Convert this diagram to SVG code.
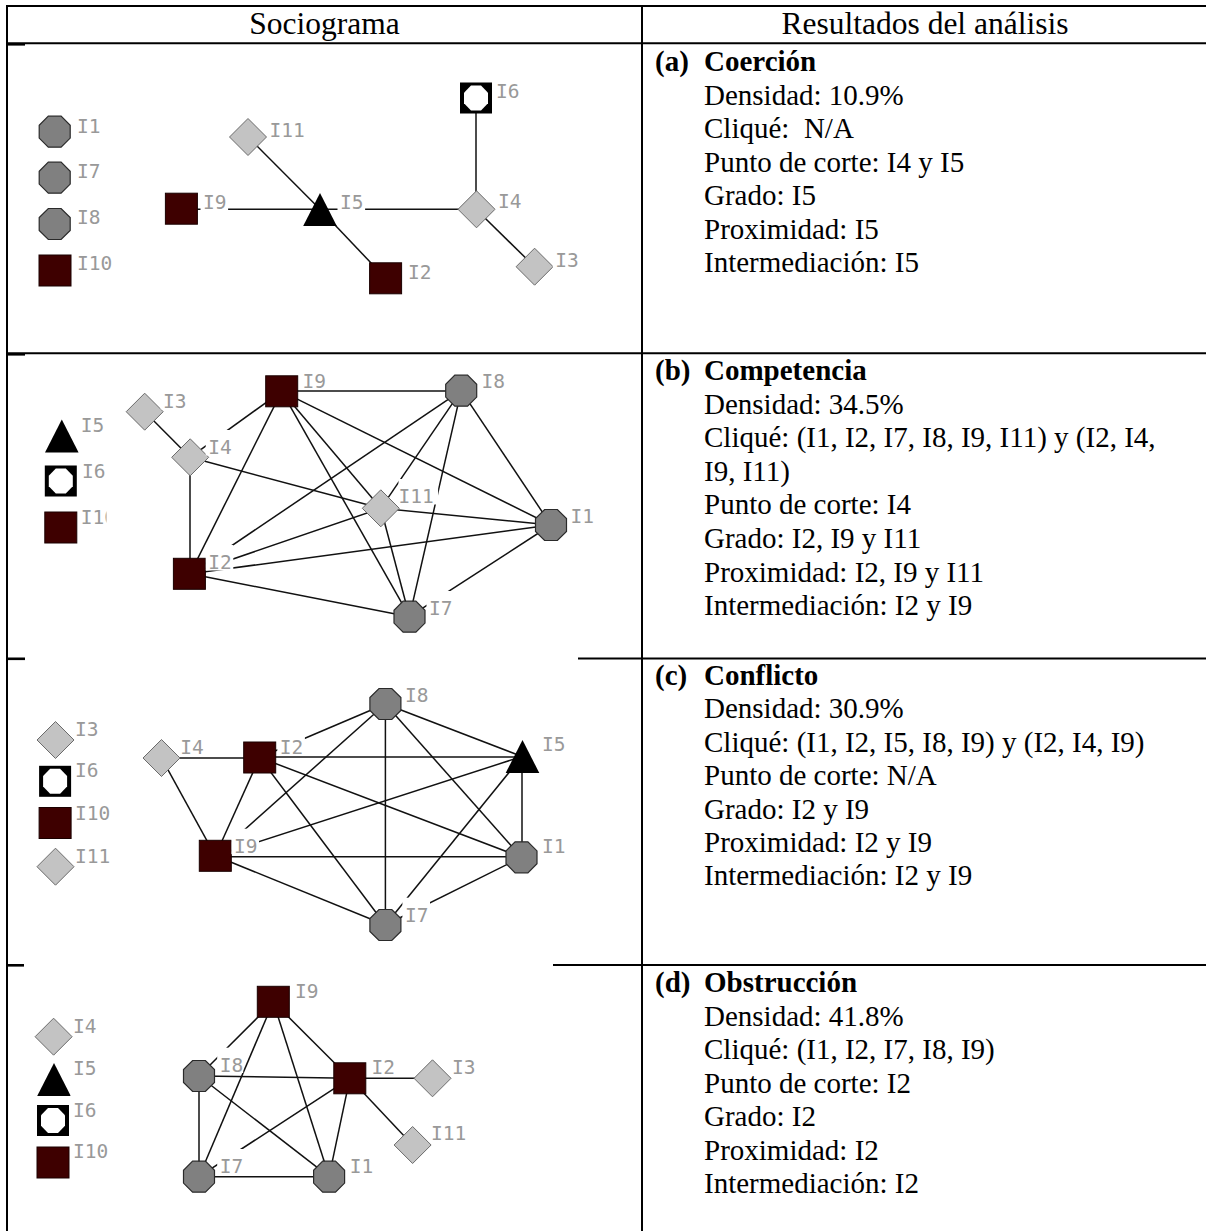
<svg xmlns="http://www.w3.org/2000/svg" width="1206" height="1231" viewBox="0 0 1206 1231">
  <style>
    .tl { stroke: #000; stroke-width: 2; fill: none; }
    .stub { fill: #000; }
    .e line { stroke: #111; stroke-width: 1.5; }
    .lbg { fill: #fff; }
    .lb { font-family: "DejaVu Sans Mono", monospace; font-size: 19.5px; fill: #999; }
    .hd { font-family: "Liberation Serif", "Times New Roman", serif; font-size: 31.5px; fill: #000; text-anchor: middle; }
    .tx { font-family: "Liberation Serif", "Times New Roman", serif; font-size: 29px; fill: #000; }
    .b { font-weight: bold; }
  </style>
  <defs>
    <!-- actor shapes -->
    <polygon id="oct" points="-6.4,-15.5 6.4,-15.5 15.5,-6.4 15.5,6.4 6.4,15.5 -6.4,15.5 -15.5,6.4 -15.5,-6.4" fill="#808080" stroke="#2a2a2a" stroke-width="1.2"/>
    <rect id="sq" x="-16" y="-15.5" width="32" height="31" fill="#3e0000" stroke="#1a0000" stroke-width="1"/>
    <polygon id="dia" points="0,-18.5 18.5,0 0,18.5 -18.5,0" fill="#c3c3c3" stroke="#6b6b6b" stroke-width="1"/>
    <polygon id="tri" points="0,-16.5 16.8,16.5 -16.8,16.5" fill="#000"/>
    <g id="sqo">
      <rect x="-16" y="-15.5" width="32" height="31" fill="#000"/>
      <polygon points="-5,-12.5 5,-12.5 12,-5.2 12,5.2 5,12.5 -5,12.5 -12,5.2 -12,-5.2" fill="#fff"/>
    </g>
    <clipPath id="legendB">
      <rect x="0" y="340" width="106.5" height="300"/>
    </clipPath>
  </defs>

  <rect width="1206" height="1231" fill="#fff"/>

  <!-- table rules -->
  <g id="table">
    <line class="tl" x1="6" y1="6" x2="1206" y2="6"/>
    <line class="tl" x1="7" y1="5" x2="7" y2="1231"/>
    <line class="tl" x1="642" y1="5" x2="642" y2="1231"/>
    <line class="tl" x1="6" y1="43.3" x2="1206" y2="43.3"/>
    <line class="tl" x1="6" y1="353.3" x2="1206" y2="353.3"/>
    <line class="tl" x1="578" y1="658.5" x2="1206" y2="658.5"/>
    <line class="tl" x1="553" y1="965" x2="1206" y2="965"/>
    <rect class="stub" x="6" y="43" width="19" height="2.6"/>
    <rect class="stub" x="6" y="353" width="19" height="2.6"/>
    <rect class="stub" x="6" y="657.5" width="19" height="2.6"/>
    <rect class="stub" x="6" y="964" width="18" height="2.6"/>
  </g>

  <!-- headers -->
  <text class="hd" x="324.5" y="34">Sociograma</text>
  <text class="hd" x="925" y="34">Resultados del análisis</text>

  <!-- analysis results -->
  <g id="results">
    <text class="tx b" x="655" y="71">(a)</text>
    <text class="tx b" x="704" y="71">Coerción</text>
    <text class="tx" x="704" y="104.5">Densidad: 10.9%</text>
    <text class="tx" x="704" y="138">Cliqué:&#160; N/A</text>
    <text class="tx" x="704" y="171.5">Punto de corte: I4 y I5</text>
    <text class="tx" x="704" y="205">Grado: I5</text>
    <text class="tx" x="704" y="238.5">Proximidad: I5</text>
    <text class="tx" x="704" y="272">Intermediación: I5</text>

    <text class="tx b" x="655" y="380">(b)</text>
    <text class="tx b" x="704" y="380">Competencia</text>
    <text class="tx" x="704" y="413.6">Densidad: 34.5%</text>
    <text class="tx" x="704" y="447.2">Cliqué: (I1, I2, I7, I8, I9, I11) y (I2, I4,</text>
    <text class="tx" x="704" y="480.8">I9, I11)</text>
    <text class="tx" x="704" y="514.4">Punto de corte: I4</text>
    <text class="tx" x="704" y="548">Grado: I2, I9 y I11</text>
    <text class="tx" x="704" y="581.6">Proximidad: I2, I9 y I11</text>
    <text class="tx" x="704" y="615.2">Intermediación: I2 y I9</text>

    <text class="tx b" x="655" y="685">(c)</text>
    <text class="tx b" x="704" y="685">Conflicto</text>
    <text class="tx" x="704" y="718.4">Densidad: 30.9%</text>
    <text class="tx" x="704" y="751.8">Cliqué: (I1, I2, I5, I8, I9) y (I2, I4, I9)</text>
    <text class="tx" x="704" y="785.2">Punto de corte: N/A</text>
    <text class="tx" x="704" y="818.6">Grado: I2 y I9</text>
    <text class="tx" x="704" y="852">Proximidad: I2 y I9</text>
    <text class="tx" x="704" y="885.4">Intermediación: I2 y I9</text>

    <text class="tx b" x="655" y="992">(d)</text>
    <text class="tx b" x="704" y="992">Obstrucción</text>
    <text class="tx" x="704" y="1025.5">Densidad: 41.8%</text>
    <text class="tx" x="704" y="1059">Cliqué: (I1, I2, I7, I8, I9)</text>
    <text class="tx" x="704" y="1092.5">Punto de corte: I2</text>
    <text class="tx" x="704" y="1126">Grado: I2</text>
    <text class="tx" x="704" y="1159.5">Proximidad: I2</text>
    <text class="tx" x="704" y="1193">Intermediación: I2</text>
  </g>

  <!-- ===== (a) Coerción ===== -->
  <g id="edges-a" class="e">
    <line x1="248" y1="137" x2="320" y2="209.3"/>
    <line x1="181.4" y1="209.3" x2="320" y2="209.3"/>
    <line x1="320" y1="209.3" x2="385.6" y2="278.3"/>
    <line x1="320" y1="209.3" x2="476" y2="209.3"/>
    <line x1="476" y1="98" x2="476" y2="209.3"/>
    <line x1="476" y1="209.3" x2="534.6" y2="266.7"/>
  </g>
  <g id="a-I1"><use href="#oct" x="54.7" y="131.7"/><rect class="lbg" x="74.5" y="109" width="27.6" height="25.5"/><text class="lb" x="77" y="133">I1</text></g>
  <g id="a-I7"><use href="#oct" x="54.7" y="177.7"/><rect class="lbg" x="74.5" y="154" width="27.6" height="25.5"/><text class="lb" x="77" y="178">I7</text></g>
  <g id="a-I8"><use href="#oct" x="54.7" y="224"/><rect class="lbg" x="74.5" y="200" width="27.6" height="25.5"/><text class="lb" x="77" y="224">I8</text></g>
  <g id="a-I10"><use href="#sq" x="55" y="270.5"/><rect class="lbg" x="74.5" y="246" width="39.6" height="25.5"/><text class="lb" x="77" y="270">I10</text></g>
  <g id="a-I6"><use href="#sqo" x="476" y="98"/><rect class="lbg" x="493.5" y="74" width="27.6" height="25.5"/><text class="lb" x="496" y="98">I6</text></g>
  <g id="a-I11"><use href="#dia" x="248" y="137"/><rect class="lbg" x="267" y="113" width="39.6" height="25.5"/><text class="lb" x="269.5" y="137">I11</text></g>
  <g id="a-I9"><use href="#sq" x="181.4" y="208.7"/><rect class="lbg" x="200.5" y="185" width="27.6" height="25.6"/><text class="lb" x="203" y="209">I9</text></g>
  <g id="a-I5"><use href="#tri" x="320" y="209.5"/><rect class="lbg" x="337.5" y="185" width="27.6" height="25.6"/><text class="lb" x="340" y="209">I5</text></g>
  <g id="a-I4"><use href="#dia" x="476.5" y="209.3"/><rect class="lbg" x="495.5" y="184" width="27.6" height="25.5"/><text class="lb" x="498" y="208">I4</text></g>
  <g id="a-I2"><use href="#sq" x="385.6" y="278.3"/><rect class="lbg" x="405.5" y="255" width="27.6" height="25.5"/><text class="lb" x="408" y="279">I2</text></g>
  <g id="a-I3"><use href="#dia" x="534.6" y="266.7"/><rect class="lbg" x="552.8" y="243" width="27.6" height="25.5"/><text class="lb" x="555.3" y="267">I3</text></g>

  <!-- ===== (b) Competencia ===== -->
  <g id="edges-b" class="e">
    <line x1="144.7" y1="411.7" x2="190" y2="457.3"/>
    <line x1="190" y1="457.3" x2="190" y2="573.8"/>
    <line x1="190" y1="457.3" x2="380.8" y2="508.3"/>
    <line x1="190" y1="457.3" x2="281.7" y2="391.3"/>
    <line x1="281.7" y1="391" x2="461.2" y2="391"/>
    <line x1="281.7" y1="391.3" x2="190" y2="573.8"/>
    <line x1="281.7" y1="391.3" x2="409.5" y2="616.7"/>
    <line x1="281.7" y1="391.3" x2="380.8" y2="508.3"/>
    <line x1="281.7" y1="391.3" x2="551" y2="525"/>
    <line x1="461.2" y1="390.7" x2="190" y2="573.8"/>
    <line x1="461.2" y1="390.7" x2="380.8" y2="508.3"/>
    <line x1="461.2" y1="390.7" x2="409.5" y2="616.7"/>
    <line x1="461.2" y1="390.7" x2="551" y2="525"/>
    <line x1="380.8" y1="508.3" x2="551" y2="525"/>
    <line x1="380.8" y1="508.3" x2="190" y2="573.8"/>
    <line x1="380.8" y1="508.3" x2="409.5" y2="616.7"/>
    <line x1="190" y1="573.8" x2="551" y2="525"/>
    <line x1="190" y1="573.8" x2="409.5" y2="616.7"/>
    <line x1="551" y1="525" x2="409.5" y2="616.7"/>
  </g>
  <g id="b-I5"><use href="#tri" x="61.8" y="436"/><rect class="lbg" x="78.3" y="408" width="25.7" height="25.5"/><text class="lb" x="80.8" y="432">I5</text></g>
  <g id="b-I6"><use href="#sqo" x="60.8" y="481"/><rect class="lbg" x="79.4" y="454" width="24.6" height="25.5"/><text class="lb" x="81.9" y="478">I6</text></g>
  <g id="b-I10"><use href="#sq" x="60.8" y="527.5"/><g clip-path="url(#legendB)"><rect class="lbg" x="78.3" y="500" width="39.6" height="25.5"/><text class="lb" x="80.8" y="524">I10</text></g></g>
  <g id="b-I3"><use href="#dia" x="144.7" y="411.7"/><rect class="lbg" x="160.6" y="384" width="27.6" height="25.5"/><text class="lb" x="163.1" y="408">I3</text></g>
  <g id="b-I4"><use href="#dia" x="190.2" y="457.3"/><rect class="lbg" x="205.7" y="430" width="27.6" height="25.5"/><text class="lb" x="208.2" y="454">I4</text></g>
  <g id="b-I9"><use href="#sq" x="281.7" y="391.3"/><rect class="lbg" x="300" y="364" width="27.6" height="25.3"/><text class="lb" x="302.5" y="388">I9</text></g>
  <g id="b-I8"><use href="#oct" x="461.2" y="390.7"/><rect class="lbg" x="479" y="364" width="27.6" height="25.3"/><text class="lb" x="481.5" y="388">I8</text></g>
  <g id="b-I11"><use href="#dia" x="380.8" y="508.3"/><rect class="lbg" x="398.5" y="479" width="39.6" height="25.5"/><text class="lb" x="398.5" y="503">I11</text></g>
  <g id="b-I1"><use href="#oct" x="551" y="525"/><rect class="lbg" x="568" y="499" width="27.6" height="25.5"/><text class="lb" x="570.5" y="523">I1</text></g>
  <g id="b-I2"><use href="#sq" x="189.4" y="573.8"/><rect class="lbg" x="205.7" y="545" width="27.6" height="25.5"/><text class="lb" x="208.2" y="569">I2</text></g>
  <g id="b-I7"><use href="#oct" x="409.5" y="616.7"/><rect class="lbg" x="426.5" y="591" width="27.6" height="25.5"/><text class="lb" x="429" y="615">I7</text></g>

  <!-- ===== (c) Conflicto ===== -->
  <g id="edges-c" class="e">
    <line x1="161.5" y1="758" x2="259.7" y2="758"/>
    <line x1="161.5" y1="758" x2="215.3" y2="855.8"/>
    <line x1="259.7" y1="757" x2="522" y2="757"/>
    <line x1="259.7" y1="757.5" x2="215.3" y2="855.8"/>
    <line x1="259.7" y1="757.5" x2="385.4" y2="704"/>
    <line x1="259.7" y1="757.5" x2="521.5" y2="857.3"/>
    <line x1="259.7" y1="757.5" x2="385.4" y2="925"/>
    <line x1="215.3" y1="855.8" x2="385.4" y2="704"/>
    <line x1="215.3" y1="855.8" x2="522" y2="756.5"/>
    <line x1="215.3" y1="856.7" x2="521.5" y2="856.7"/>
    <line x1="215.3" y1="855.8" x2="385.4" y2="925"/>
    <line x1="385.4" y1="704" x2="522" y2="756.5"/>
    <line x1="385.4" y1="704" x2="521.5" y2="857.3"/>
    <line x1="385.4" y1="704" x2="385.4" y2="925"/>
    <line x1="522" y1="756.5" x2="522" y2="857.3"/>
    <line x1="522" y1="756.5" x2="385.4" y2="925"/>
    <line x1="521.5" y1="857.3" x2="385.4" y2="925"/>
  </g>
  <g id="c-I3"><use href="#dia" x="55.5" y="740"/><rect class="lbg" x="72.5" y="712" width="27.6" height="25.5"/><text class="lb" x="75" y="736">I3</text></g>
  <g id="c-I6"><use href="#sqo" x="55.1" y="781.3"/><rect class="lbg" x="72.5" y="753" width="27.6" height="25.5"/><text class="lb" x="75" y="777">I6</text></g>
  <g id="c-I10"><use href="#sq" x="55.1" y="823"/><rect class="lbg" x="72.5" y="796" width="39.6" height="25.5"/><text class="lb" x="75" y="820">I10</text></g>
  <g id="c-I11"><use href="#dia" x="55.5" y="866.7"/><rect class="lbg" x="72.5" y="838.7" width="39.6" height="25.5"/><text class="lb" x="75" y="862.7">I11</text></g>
  <g id="c-I8"><use href="#oct" x="385.4" y="704"/><rect class="lbg" x="402.4" y="677.7" width="27.6" height="25.3"/><text class="lb" x="404.9" y="701.7">I8</text></g>
  <g id="c-I4"><use href="#dia" x="161.5" y="758"/><rect class="lbg" x="177.8" y="730" width="27.6" height="25.5"/><text class="lb" x="180.3" y="754">I4</text></g>
  <g id="c-I2"><use href="#sq" x="259.7" y="757.5"/><rect class="lbg" x="277.3" y="730" width="27.6" height="25.5"/><text class="lb" x="279.8" y="754">I2</text></g>
  <g id="c-I5"><use href="#tri" x="522.5" y="756.5"/><rect class="lbg" x="539.4" y="726.7" width="27.6" height="25.5"/><text class="lb" x="541.9" y="750.7">I5</text></g>
  <g id="c-I9"><use href="#sq" x="215.3" y="855.8"/><rect class="lbg" x="231.4" y="828.7" width="27.6" height="25.5"/><text class="lb" x="233.9" y="852.7">I9</text></g>
  <g id="c-I1"><use href="#oct" x="521.5" y="857.3"/><rect class="lbg" x="539.4" y="829" width="27.6" height="25.5"/><text class="lb" x="541.9" y="853">I1</text></g>
  <g id="c-I7"><use href="#oct" x="385.4" y="925"/><rect class="lbg" x="402.4" y="897.7" width="27.6" height="25.5"/><text class="lb" x="404.9" y="921.7">I7</text></g>

  <!-- ===== (d) Obstrucción ===== -->
  <g id="edges-d" class="e">
    <line x1="273.3" y1="1001.8" x2="199" y2="1076"/>
    <line x1="273.3" y1="1001.8" x2="199" y2="1176.7"/>
    <line x1="273.3" y1="1001.8" x2="329.1" y2="1176.7"/>
    <line x1="273.3" y1="1001.8" x2="349.8" y2="1078.3"/>
    <line x1="199" y1="1076" x2="349.8" y2="1078.3"/>
    <line x1="199" y1="1076" x2="199" y2="1176.7"/>
    <line x1="199" y1="1076" x2="329.1" y2="1176.7"/>
    <line x1="349.8" y1="1078.3" x2="199" y2="1176.7"/>
    <line x1="349.8" y1="1078.3" x2="329.1" y2="1176.7"/>
    <line x1="199" y1="1176.7" x2="329.1" y2="1176.7"/>
    <line x1="349.8" y1="1078.3" x2="432.5" y2="1078.3"/>
    <line x1="349.8" y1="1078.3" x2="412.6" y2="1145"/>
  </g>
  <g id="d-I4"><use href="#dia" x="53.6" y="1036.7"/><rect class="lbg" x="70.6" y="1008.7" width="27.6" height="25.5"/><text class="lb" x="73.1" y="1032.7">I4</text></g>
  <g id="d-I5"><use href="#tri" x="54" y="1079.4"/><rect class="lbg" x="70.6" y="1051" width="27.6" height="25.5"/><text class="lb" x="73.1" y="1075">I5</text></g>
  <g id="d-I6"><use href="#sqo" x="53" y="1120.5"/><rect class="lbg" x="70.6" y="1092.7" width="27.6" height="25.5"/><text class="lb" x="73.1" y="1116.7">I6</text></g>
  <g id="d-I10"><use href="#sq" x="53" y="1162.5"/><rect class="lbg" x="70.6" y="1134.3" width="39.6" height="25.5"/><text class="lb" x="73.1" y="1158.3">I10</text></g>
  <g id="d-I9"><use href="#sq" x="273.3" y="1001.8"/><rect class="lbg" x="292.6" y="974" width="27.6" height="25.5"/><text class="lb" x="295.1" y="998">I9</text></g>
  <g id="d-I8"><use href="#oct" x="199" y="1076"/><rect class="lbg" x="217.2" y="1047.7" width="26" height="25.3"/><text class="lb" x="219.7" y="1071.7">I8</text></g>
  <g id="d-I2"><use href="#sq" x="349.8" y="1078.3"/><rect class="lbg" x="369" y="1050" width="27.6" height="25.5"/><text class="lb" x="371.5" y="1074">I2</text></g>
  <g id="d-I3"><use href="#dia" x="432.5" y="1078.3"/><rect class="lbg" x="449.5" y="1050" width="27.6" height="25.5"/><text class="lb" x="452" y="1074">I3</text></g>
  <g id="d-I11"><use href="#dia" x="412.6" y="1145"/><rect class="lbg" x="428.5" y="1116" width="39.6" height="25.5"/><text class="lb" x="431" y="1140">I11</text></g>
  <g id="d-I7"><use href="#oct" x="199" y="1176.7"/><rect class="lbg" x="217.2" y="1149" width="27.6" height="25.5"/><text class="lb" x="219.7" y="1173">I7</text></g>
  <g id="d-I1"><use href="#oct" x="329.1" y="1176.7"/><rect class="lbg" x="347.3" y="1149" width="27.6" height="25.5"/><text class="lb" x="349.8" y="1173">I1</text></g>
</svg>
